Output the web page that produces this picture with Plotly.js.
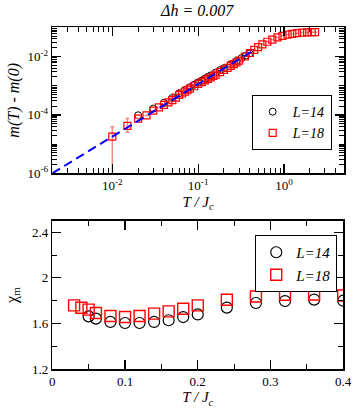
<!DOCTYPE html>
<html>
<head>
<meta charset="utf-8">
<script src="https://cdn.plot.ly/plotly-3.0.1.min.js"></script>
<style>html,body{margin:0;padding:0;background:#fff;}#chart{width:354px;height:408px;}</style>
</head>
<body>
<div id="chart"></div>
<script>
// ---- top panel: m(T) - m(0) vs T/Jc (log-log) ----
var topX14 = [0.02, 0.03, 0.04, 0.05, 0.06, 0.07, 0.08, 0.09, 0.1, 0.11, 0.12, 0.13, 0.14, 0.16, 0.18, 0.2, 0.24, 0.28, 0.32, 0.36, 0.4];
var topY14 = [9.7e-5, 1.65e-4, 2.6e-4, 3.8e-4, 5.5e-4, 7.1e-4, 8.9e-4, 1.08e-3, 1.3e-3, 1.5e-3, 1.75e-3, 2.0e-3, 2.25e-3, 2.8e-3, 3.4e-3, 4.0e-3, 5.4e-3, 7.0e-3, 8.8e-3, 1.07e-2, 1.28e-2];

var topX18 = [0.01, 0.015, 0.02, 0.025, 0.03, 0.035, 0.04, 0.045, 0.05, 0.055, 0.06, 0.065, 0.07, 0.075, 0.08, 0.09, 0.1, 0.11, 0.12, 0.13, 0.14, 0.15, 0.16, 0.18, 0.2, 0.22, 0.24, 0.26, 0.28, 0.3, 0.35, 0.4, 0.45, 0.5, 0.56, 0.64, 0.73, 0.84, 0.96, 1.1, 1.25, 1.42, 1.63, 1.86, 2.1, 2.3];
var topY18 = [1.8e-5, 4.2e-5, 7.5e-5, 9.6e-5, 1.4e-4, 1.8e-4, 2.2e-4, 2.7e-4, 3.2e-4, 3.9e-4, 4.8e-4, 5.4e-4, 6.2e-4, 7.0e-4, 7.9e-4, 9.6e-4, 1.15e-3, 1.33e-3, 1.52e-3, 1.72e-3, 1.93e-3, 2.15e-3, 2.4e-3, 2.9e-3, 3.5e-3, 4.1e-3, 4.8e-3, 5.5e-3, 6.3e-3, 7.2e-3, 1.0e-2, 1.32e-2, 1.68e-2, 2.08e-2, 2.6e-2, 3.2e-2, 3.8e-2, 4.5e-2, 5.1e-2, 5.6e-2, 6.0e-2, 6.3e-2, 6.6e-2, 6.7e-2, 6.8e-2, 6.8e-2];
var topErrPlus18  = [2.1e-5, 3.4e-5, 0, 0, 0, 0, 0, 0, 0, 0, 0, 0, 0, 0, 0, 0, 0, 0, 0, 0, 0, 0, 0, 0, 0, 0, 0, 0, 0, 0, 0, 0, 0, 0, 0, 0, 0, 0, 0, 0, 0, 0, 0, 0, 0, 0];
var topErrMinus18 = [1.79e-5, 1.6e-5, 0, 0, 0, 0, 0, 0, 0, 0, 0, 0, 0, 0, 0, 0, 0, 0, 0, 0, 0, 0, 0, 0, 0, 0, 0, 0, 0, 0, 0, 0, 0, 0, 0, 0, 0, 0, 0, 0, 0, 0, 0, 0, 0, 0];

var fitX = [0.002, 0.43];
var fitY = [1.0e-6, 1.55e-2];

var topXTickVals = [0.01, 0.1, 1];
var topXTickText = ['10<sup>-2</sup>', '10<sup>-1</sup>', '10<sup>0</sup>'];
var topYTickVals = [1e-6, 1e-4, 1e-2];
var topYTickText = ['10<sup>-6</sup>', '10<sup>-4</sup>', '10<sup>-2</sup>'];

// ---- bottom panel: chi_m vs T/Jc ----
var botX14 = [0.05, 0.06, 0.08, 0.1, 0.12, 0.14, 0.16, 0.18, 0.2, 0.24, 0.28, 0.32, 0.36, 0.4];
var botY14 = [1.663, 1.643, 1.614, 1.605, 1.605, 1.614, 1.629, 1.657, 1.68, 1.74, 1.78, 1.797, 1.81, 1.80];
var botX18 = [0.03, 0.04, 0.05, 0.06, 0.08, 0.1, 0.12, 0.14, 0.16, 0.18, 0.2, 0.24, 0.28, 0.32, 0.36, 0.4];
var botY18 = [1.759, 1.739, 1.722, 1.692, 1.666, 1.657, 1.666, 1.687, 1.707, 1.73, 1.759, 1.808, 1.837, 1.852, 1.855, 1.846];

var legendNames = ['<i>L=14</i>', '<i>L=18</i>'];

var FONT = 'Liberation Serif, Times New Roman, serif';

var traces = [
  {x: topX14, y: topY14, xaxis: 'x', yaxis: 'y', mode: 'markers', name: legendNames[0], legend: 'legend',
   marker: {symbol: 'circle-open', size: 7, color: '#000000', line: {color: '#000000', width: 1}}},
  {x: topX18, y: topY18, xaxis: 'x', yaxis: 'y', mode: 'markers', name: legendNames[1], legend: 'legend',
   marker: {symbol: 'square-open', size: 7, color: '#ff0000', line: {color: '#ff0000', width: 1.2}},
   error_y: {type: 'data', symmetric: false, array: topErrPlus18, arrayminus: topErrMinus18,
             color: 'rgba(240,110,110,0.8)', thickness: 1.5, width: 2}},
  {x: fitX, y: fitY, xaxis: 'x', yaxis: 'y', mode: 'lines', showlegend: false,
   line: {color: '#0000ff', width: 2, dash: '9px,5px'}, hoverinfo: 'skip'},
  {x: botX14, y: botY14, xaxis: 'x2', yaxis: 'y2', mode: 'markers', name: legendNames[0], legend: 'legend2',
   marker: {symbol: 'circle-open', size: 11, color: '#000000', line: {color: '#000000', width: 1.2}}},
  {x: botX18, y: botY18, xaxis: 'x2', yaxis: 'y2', mode: 'markers', name: legendNames[1], legend: 'legend2',
   marker: {symbol: 'square-open', size: 11, color: '#ff0000', line: {color: '#ff0000', width: 1.4}}}
];

var axCommon = {
  showgrid: false, zeroline: false, showline: true, linecolor: '#000', linewidth: 1.5,
  mirror: 'allticks', ticks: 'inside', ticklen: 9, tickwidth: 1.2, tickcolor: '#000',
  tickfont: {family: FONT, size: 13, color: '#000'}
};
function ax(extra) { var o = JSON.parse(JSON.stringify(axCommon)); for (var k in extra) o[k] = extra[k]; return o; }

var layout = {
  width: 354, height: 408,
  margin: {l: 0, r: 0, t: 0, b: 0},
  paper_bgcolor: '#fff', plot_bgcolor: '#fff',
  font: {family: FONT, color: '#000'},
  title: {text: '<i>\u0394h = 0.007</i>', font: {family: FONT, size: 16, color: '#000'},
          x: 0.557, xanchor: 'center', y: 0.975, yanchor: 'middle'},
  xaxis: ax({type: 'log', range: [Math.log10(0.002), Math.log10(5)], domain: [0.1477, 0.9718],
    anchor: 'y', tickmode: 'array', tickvals: topXTickVals, ticktext: topXTickText,
    minor: {ticks: 'inside', ticklen: 5, dtick: 'D1', tickcolor: '#000', tickwidth: 1},
    title: {text: '<i>T / J<sub>c</sub></i>', font: {family: FONT, size: 15}, standoff: 4}}),
  yaxis: ax({type: 'log', range: [-6, -1], domain: [0.5752, 0.9331], anchor: 'x',
    tickmode: 'array', tickvals: topYTickVals, ticktext: topYTickText,
    minor: {ticks: 'inside', ticklen: 5, dtick: 'D1', tickcolor: '#000', tickwidth: 1},
    title: {text: '<i>m(T) - m(0)</i>', font: {family: FONT, size: 16}, standoff: 4}}),
  xaxis2: ax({range: [0, 0.4], domain: [0.1477, 0.9695], anchor: 'y2', dtick: 0.1, tick0: 0,
    minor: {ticks: 'inside', ticklen: 5, dtick: 0.05, tickcolor: '#000', tickwidth: 1},
    title: {text: '<i>T / J<sub>c</sub></i>', font: {family: FONT, size: 15}, standoff: 2}}),
  yaxis2: ax({range: [1.2, 2.5], domain: [0.0949, 0.459], anchor: 'x2', dtick: 0.4, tick0: 1.2,
    minor: {ticks: 'inside', ticklen: 5, dtick: 0.2, tickcolor: '#000', tickwidth: 1},
    title: {text: '\u03c7<sub>m</sub>', font: {family: FONT, size: 16}, standoff: 10}}),
  legend: {x: 0.711, y: 0.767, xanchor: 'left', yanchor: 'top', bgcolor: '#fff',
    bordercolor: '#000', borderwidth: 1, font: {family: FONT, size: 14, color: '#000'},
    tracegroupgap: 0, itemwidth: 30},
  legend2: {x: 0.721, y: 0.424, xanchor: 'left', yanchor: 'top', bgcolor: '#fff',
    bordercolor: '#000', borderwidth: 1, font: {family: FONT, size: 15, color: '#000'},
    tracegroupgap: 0, itemwidth: 30},
  showlegend: true
};

Plotly.newPlot('chart', traces, layout, {displayModeBar: false, staticPlot: true});
</script>
</body>
</html>
